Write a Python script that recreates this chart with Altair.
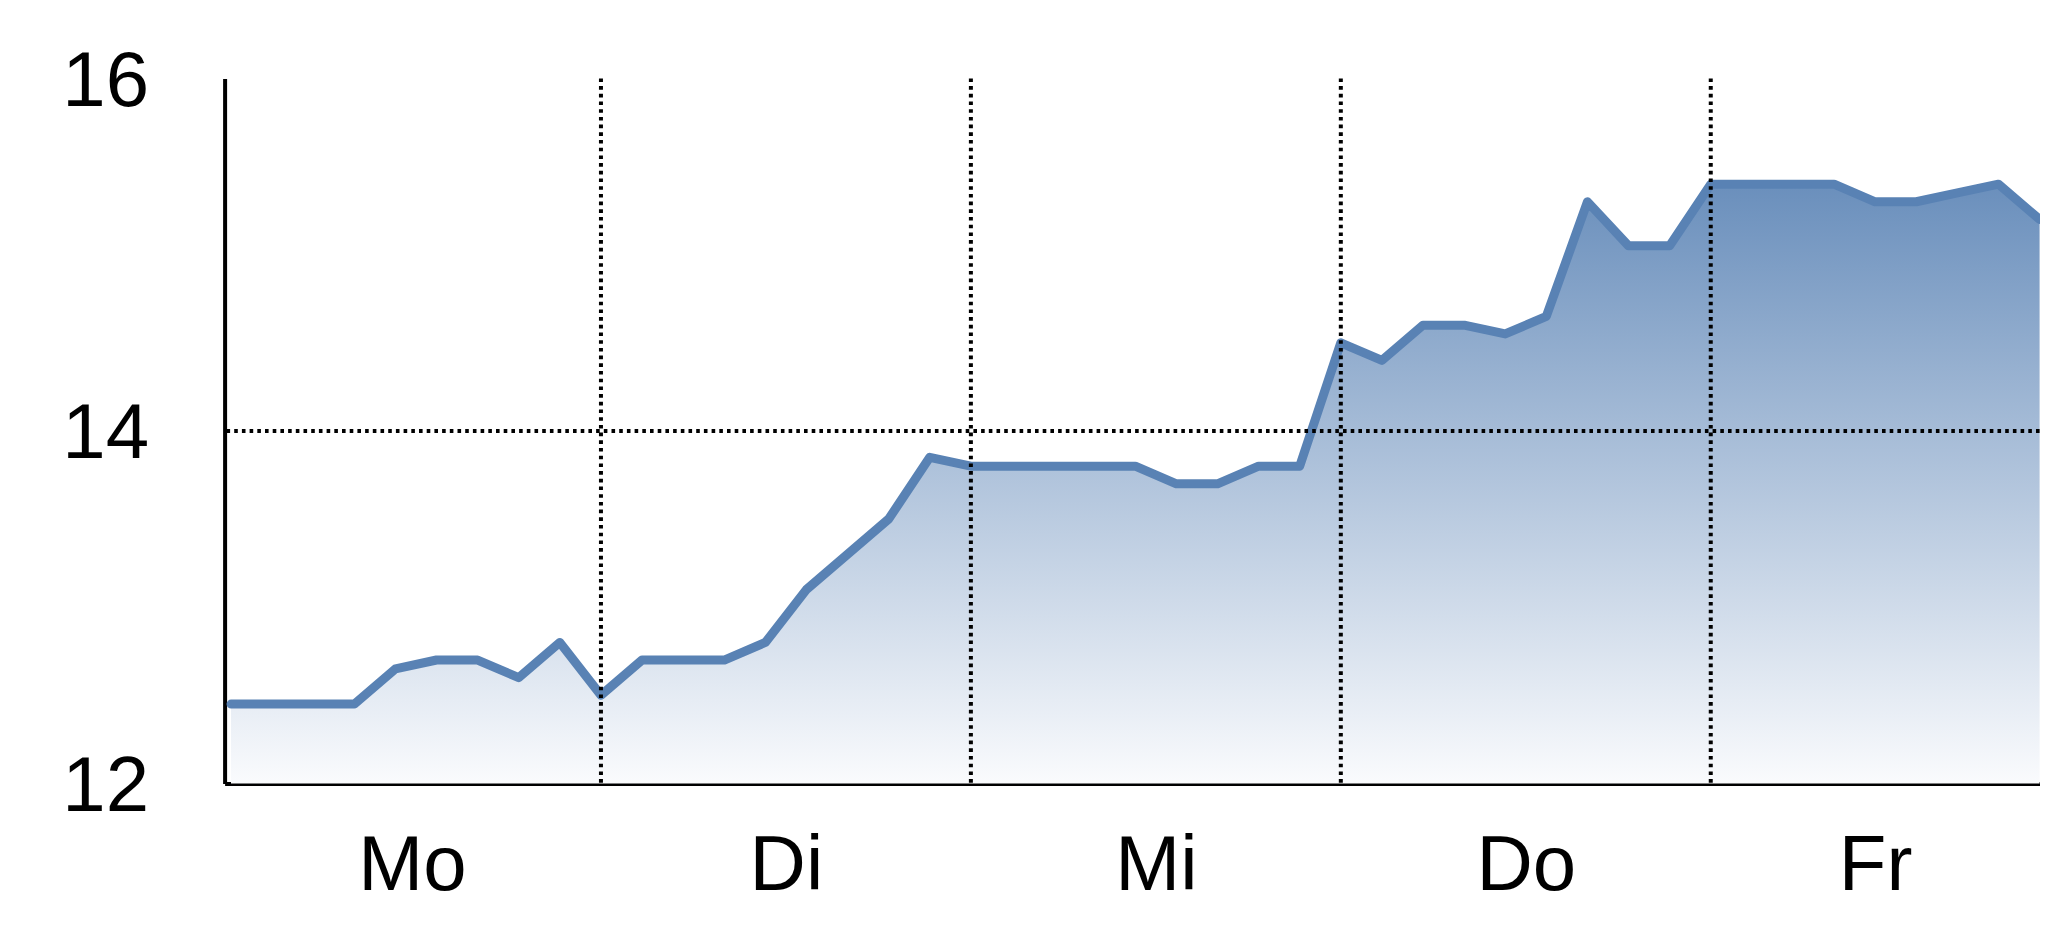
import altair as alt
import pandas as pd

# --- data (hourly index, 9 points per day) ---
days = ["Mo", "Di", "Mi", "Do", "Fr"]
values = [
    12.45, 12.45, 12.45, 12.45, 12.65, 12.70, 12.70, 12.60, 12.80,   # Mo
    12.50, 12.70, 12.70, 12.70, 12.80, 13.10, 13.30, 13.50, 13.85,   # Di
    13.80, 13.80, 13.80, 13.80, 13.80, 13.70, 13.70, 13.80, 13.80,   # Mi
    14.50, 14.40, 14.60, 14.60, 14.55, 14.65, 15.30, 15.05, 15.05,   # Do
    15.40, 15.40, 15.40, 15.40, 15.30, 15.30, 15.35, 15.40, 15.20,   # Fr
]
points_per_day = 9
day_bounds = [9, 18, 27, 36]
day_label_pos = [4.4, 13.5, 22.5, 31.5, 40]
y_ticks = [12, 14, 16]
y_grid = [14]

df = pd.DataFrame({"i": list(range(len(values))), "v": values})
bounds_df = pd.DataFrame({"b": day_bounds})
grid_df = pd.DataFrame({"g": y_grid})

FONT = "Liberation Sans Narrow, Arial Narrow, Liberation Sans, Arial, sans-serif"
LINE_COLOR = "#5982b4"
FS = 78

x_scale = alt.Scale(domain=[-0.156, 44], nice=False, zero=False)
y_scale = alt.Scale(domain=[12, 16], nice=False, zero=False)

label_expr = "['" + "','".join(days) + "'][floor(datum.value / %d)]" % points_per_day

x_axis = alt.Axis(
    values=day_label_pos, labelExpr=label_expr, title=None, grid=False,
    ticks=False, tickSize=0, labelPadding=44, labelFont=FONT, labelFontSize=FS,
    labelColor="#000000", domainColor="#000000", domainWidth=4, labelFlush=False,
    labelOverlap=False,
)
y_axis = alt.Axis(
    values=y_ticks, format="d", title=None, grid=False, ticks=False, tickSize=0,
    labelPadding=76, labelFont=FONT, labelFontSize=FS, labelColor="#000000",
    domainColor="#000000", domainWidth=4, labelOffset=4, labelFlush=False,
    labelOverlap=False,
)

gradient = alt.Gradient(
    gradient="linear",
    stops=[
        alt.GradientStop(color="#fafbfd", offset=0),
        alt.GradientStop(color="#6a8fbc", offset=1),
    ],
    x1=1, x2=1, y1=1, y2=0,
)

area = alt.Chart(df).mark_area(color=gradient, interpolate="linear").encode(
    x=alt.X("i:Q", scale=x_scale, axis=x_axis),
    y=alt.Y("v:Q", scale=y_scale, axis=y_axis),
    y2=alt.Y2(datum=12),
)

line = alt.Chart(df).mark_line(
    color=LINE_COLOR, strokeWidth=9, strokeCap="round", strokeJoin="round"
).encode(
    x=alt.X("i:Q", scale=x_scale),
    y=alt.Y("v:Q", scale=y_scale),
)

vrules = alt.Chart(bounds_df).mark_rule(
    color="#000000", strokeWidth=4, strokeDash=[3.6, 4.1]
).encode(
    x=alt.X("b:Q", scale=x_scale),
)

hrules = alt.Chart(grid_df).mark_rule(
    color="#000000", strokeWidth=4, strokeDash=[3.6, 4.1]
).encode(
    y=alt.Y("g:Q", scale=y_scale),
)

chart = alt.layer(area, line, vrules, hrules).properties(
    width=1815,
    height=705,
    padding={"left": 216.6, "top": 70.4, "right": 0, "bottom": 140},
    autosize=alt.AutoSizeParams(type="none"),
    background="#ffffff",
).configure_view(stroke=None)

chart.save("out.html", embed_options={"renderer": "svg", "actions": False})
